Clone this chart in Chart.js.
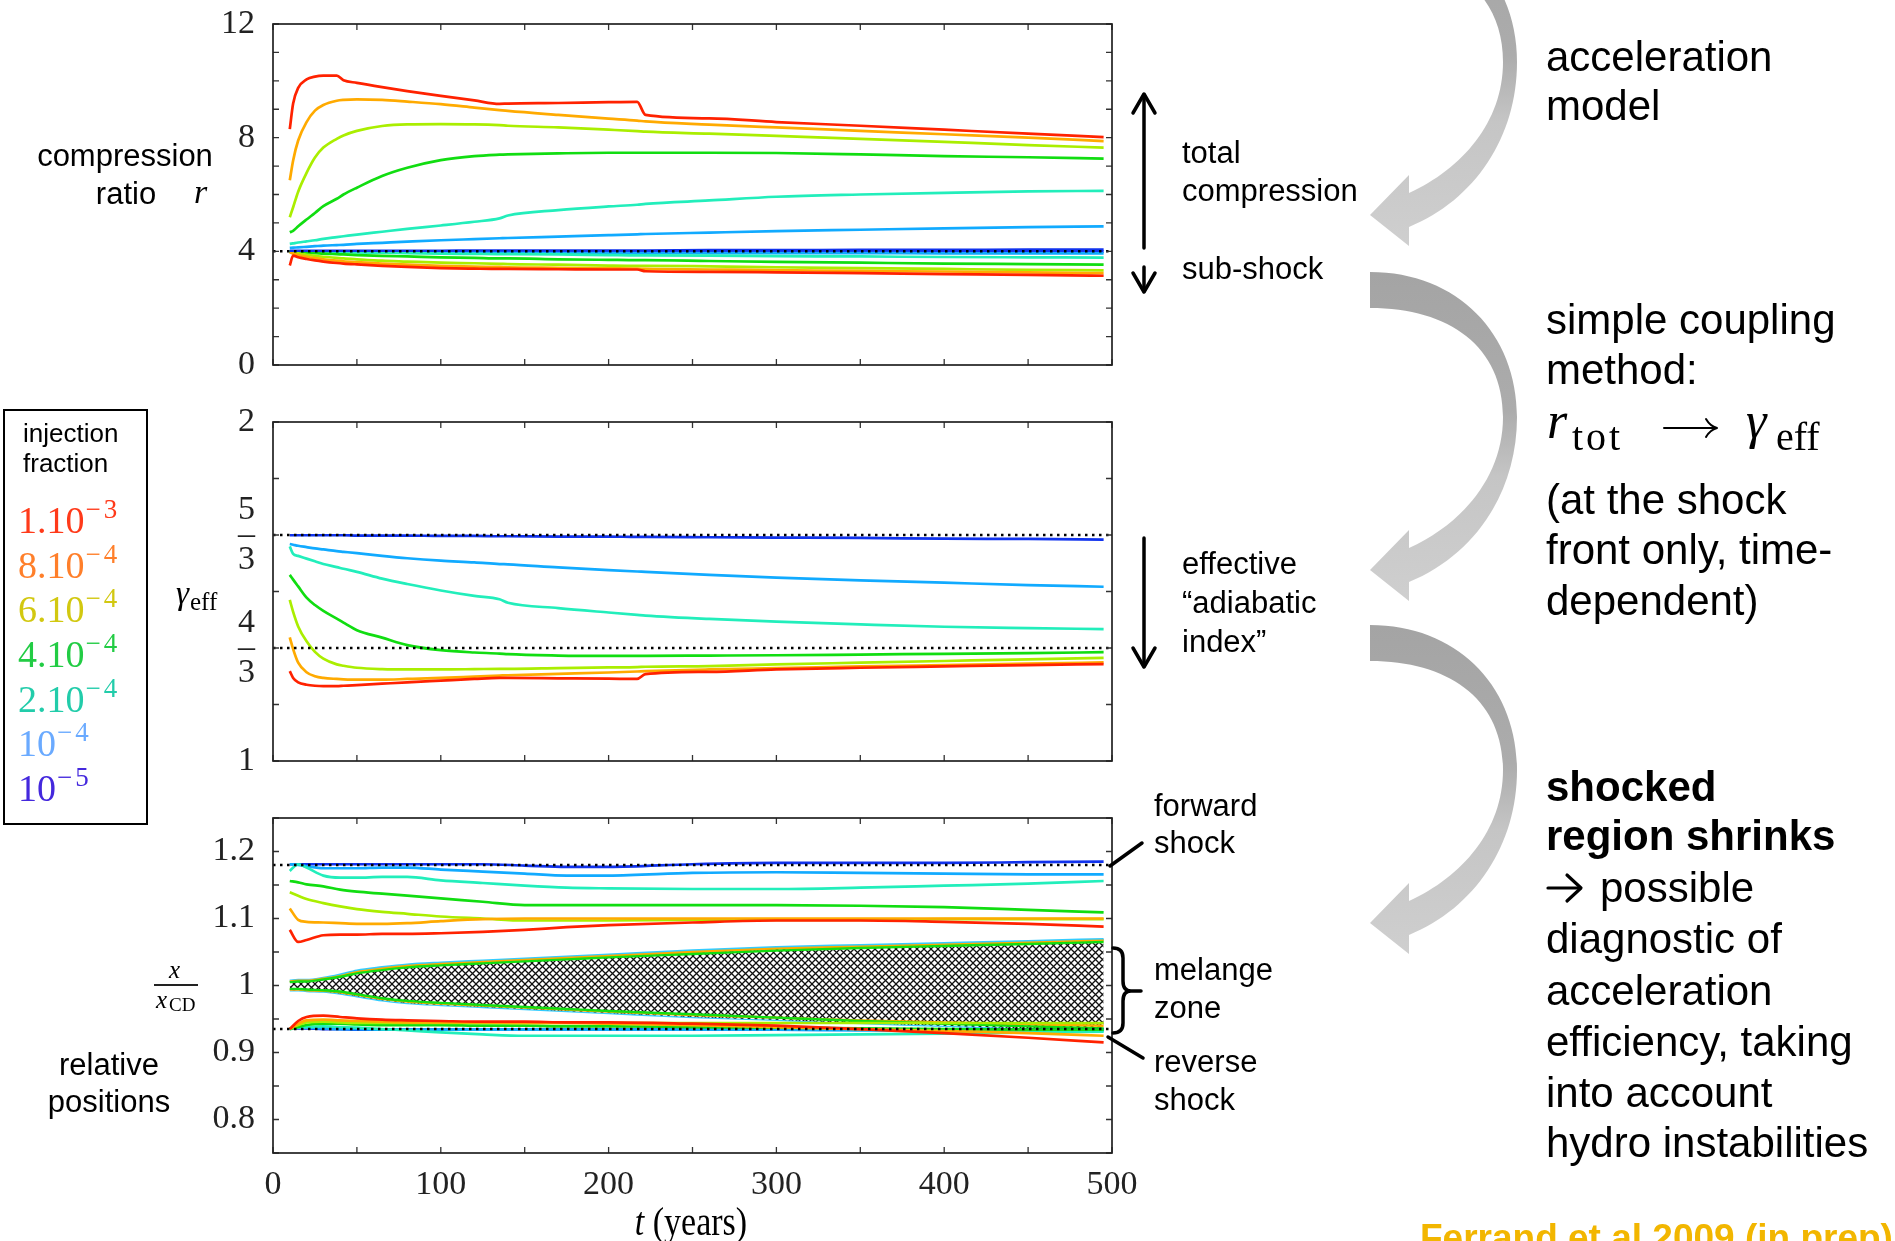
<!DOCTYPE html>
<html lang="en">
<head>
<meta charset="utf-8">
<title>Compression ratio, effective adiabatic index and relative positions</title>
<script src="https://cdn.jsdelivr.net/npm/chart.js@4.4.1/dist/chart.umd.min.js"></script>
<style>
  html, body { margin:0; padding:0; background:#fff; }
  body { position:relative; width:1895px; height:1241px; overflow:hidden;
         font-family:"Liberation Sans", Arial, sans-serif; color:#000; }
  canvas.panel { position:absolute; left:0; }
  .txt { position:absolute; white-space:nowrap; line-height:1; }
  .mid { transform:translateY(-50%); }
  .ctr { transform:translate(-50%,-50%); }
  .serif { font-family:"Liberation Serif", "Times New Roman", serif; }
  .side { font-size:31px; }
  .note { font-size:42px; left:1546px; }
  .lg { position:absolute; left:18px; font-family:"Liberation Serif", serif; font-size:38px;
        line-height:1; white-space:nowrap; }
  .lg span { font-size:27px; position:relative; top:-15px; letter-spacing:3px; margin-left:1px; }
  #legendBox { position:absolute; left:3px; top:409px; width:141px; height:412px; border:2px solid #000; }
  svg#overlay { position:absolute; left:0; top:0; }
</style>
</head>
<body>

<canvas id="cTop" class="panel" width="1160" height="395" style="top:0px"></canvas>
<canvas id="cMid" class="panel" width="1160" height="399" style="top:392px"></canvas>
<canvas id="cBot" class="panel" width="1160" height="425" style="top:788px"></canvas>

<svg id="overlay" width="1895" height="1241" viewBox="0 0 1895 1241">
  <defs>
    <linearGradient id="bendGrad" gradientUnits="userSpaceOnUse" x1="0" y1="0" x2="0" y2="330">
      <stop offset="0" stop-color="#a4a4a4"/>
      <stop offset="0.42" stop-color="#acacac"/>
      <stop offset="0.62" stop-color="#c5c5c5"/>
      <stop offset="1" stop-color="#cfcfcf"/>
    </linearGradient>
    <path id="bend" d="M0,0 C88,0 147,62 147,145 C147,220 105,283 39,310 L39,329 L0,298 L39,258 L39,276 C92,252 133,205 133,145 C133,75 80,36 0,36 Z"/>
  </defs>
  <g fill="url(#bendGrad)">
    <use href="#bend" transform="translate(1370,-83)"/>
    <use href="#bend" transform="translate(1370,272)"/>
    <use href="#bend" transform="translate(1370,625)"/>
  </g>
  <g stroke="#000" stroke-width="3.5" fill="none" stroke-linecap="round" stroke-linejoin="round">
    <!-- total compression / sub-shock -->
    <line x1="1144" y1="95" x2="1144" y2="248"/>
    <polyline points="1133,113 1144,94 1155,113"/>
    <line x1="1144" y1="267" x2="1144" y2="291"/>
    <polyline points="1133,273 1144,292 1155,273"/>
    <!-- effective adiabatic index -->
    <line x1="1144" y1="538" x2="1144" y2="666"/>
    <polyline points="1133,648 1144,667 1155,648"/>
    <!-- forward shock pointer -->
    <line x1="1110" y1="866" x2="1142" y2="843"/>
    <!-- melange zone brace -->
    <path d="M1113,948 Q1123,948 1123,958 L1123,981 Q1123,991 1131,991 L1141,991 M1131,991 Q1123,991 1123,1001 L1123,1023 Q1123,1033 1113,1033"/>
    <!-- reverse shock pointer -->
    <line x1="1108" y1="1037" x2="1143" y2="1058"/>
  </g>
  <g stroke="#000" fill="none" stroke-linecap="round" stroke-linejoin="round">
    <!-- coupling arrow r_tot -> gamma_eff -->
    <line x1="1664" y1="428" x2="1716" y2="428" stroke-width="2"/>
    <path d="M1706,419 Q1710,426 1717,428 Q1710,430 1706,437" stroke-width="2"/>
    <!-- arrow before "possible" -->
    <line x1="1548" y1="888" x2="1580" y2="888" stroke-width="3.2"/>
    <polyline points="1567,875 1581,888 1567,901" stroke-width="3.2"/>
  </g>
</svg>

<!-- left axis captions -->
<div class="txt ctr side" style="left:125px; top:155px;">compression</div>
<div class="txt ctr side" style="left:126px; top:193px;">ratio</div>
<div class="txt serif" style="left:194px; top:175px; font-size:34px; font-style:italic;">r</div>

<div class="txt serif" style="left:176px; top:577px; font-size:33px; font-style:italic;">&gamma;</div>
<div class="txt serif" style="left:190px; top:589px; font-size:25px;">eff</div>

<div class="txt serif" style="left:169px; top:957px; font-size:25px; font-style:italic;">x</div>
<div style="position:absolute; left:154px; top:984px; width:44px; height:1.5px; background:#222;"></div>
<div class="txt serif" style="left:156px; top:987px; font-size:25px; font-style:italic;">x</div>
<div class="txt serif" style="left:169px; top:995px; font-size:19px;">CD</div>

<div class="txt ctr side" style="left:109px; top:1064px;">relative</div>
<div class="txt ctr side" style="left:109px; top:1101px;">positions</div>

<div class="txt ctr serif" style="left:691px; top:1222px; font-size:34px; transform:translate(-50%,-50%) scaleY(1.15);"><i>t</i> (years)</div>

<!-- injection fraction key -->
<div id="legendBox"></div>
<div class="txt mid" style="left:23px; top:433px; font-size:26px;">injection</div>
<div class="txt mid" style="left:23px; top:463px; font-size:26px;">fraction</div>
<div class="lg" style="top:501px; color:#ff3a1a;">1.10<span>&minus;3</span></div>
<div class="lg" style="top:546px; color:#ff7f2a;">8.10<span>&minus;4</span></div>
<div class="lg" style="top:590px; color:#d2c810;">6.10<span>&minus;4</span></div>
<div class="lg" style="top:635px; color:#22cc44;">4.10<span>&minus;4</span></div>
<div class="lg" style="top:680px; color:#22ccaa;">2.10<span>&minus;4</span></div>
<div class="lg" style="top:724px; color:#6aaaff;">10<span>&minus;4</span></div>
<div class="lg" style="top:769px; color:#4428dd;">10<span>&minus;5</span></div>

<!-- annotations next to the panels -->
<div class="txt mid side" style="left:1182px; top:152px;">total</div>
<div class="txt mid side" style="left:1182px; top:190px;">compression</div>
<div class="txt mid side" style="left:1182px; top:268px;">sub-shock</div>
<div class="txt mid side" style="left:1182px; top:563px;">effective</div>
<div class="txt mid side" style="left:1182px; top:602px;">&ldquo;adiabatic</div>
<div class="txt mid side" style="left:1182px; top:641px;">index&rdquo;</div>
<div class="txt mid side" style="left:1154px; top:805px;">forward</div>
<div class="txt mid side" style="left:1154px; top:842px;">shock</div>
<div class="txt mid side" style="left:1154px; top:969px;">melange</div>
<div class="txt mid side" style="left:1154px; top:1007px;">zone</div>
<div class="txt mid side" style="left:1154px; top:1061px;">reverse</div>
<div class="txt mid side" style="left:1154px; top:1099px;">shock</div>

<!-- right-hand notes -->
<div class="txt mid note" style="top:57px;">acceleration</div>
<div class="txt mid note" style="top:106px;">model</div>
<div class="txt mid note" style="top:320px;">simple coupling</div>
<div class="txt mid note" style="top:370px;">method:</div>
<div class="txt serif" style="left:1547px; top:395px; font-size:52px; font-style:italic;">r</div>
<div class="txt serif" style="left:1572px; top:417px; font-size:40px; letter-spacing:3px;">tot</div>
<div class="txt serif" style="left:1746px; top:395px; font-size:52px; font-style:italic;">&gamma;</div>
<div class="txt serif" style="left:1776px; top:417px; font-size:40px;">eff</div>
<div class="txt mid note" style="top:500px;">(at the shock</div>
<div class="txt mid note" style="top:550px;">front only, time-</div>
<div class="txt mid note" style="top:601px;">dependent)</div>
<div class="txt mid note" style="top:787px; font-weight:bold;">shocked</div>
<div class="txt mid note" style="top:836px; font-weight:bold;">region shrinks</div>
<div class="txt mid note" style="top:888px; left:1600px;">possible</div>
<div class="txt mid note" style="top:939px;">diagnostic of</div>
<div class="txt mid note" style="top:991px;">acceleration</div>
<div class="txt mid note" style="top:1042px;">efficiency, taking</div>
<div class="txt mid note" style="top:1093px;">into account</div>
<div class="txt mid note" style="top:1143px;">hydro instabilities</div>
<div class="txt" style="left:1420px; top:1219px; font-size:37px; font-weight:bold; color:#f2b600;">Ferrand et al 2009 (in prep)</div>

<script>
// ---- time grids (years) ----
const tSteps = [10, 12, 15, 20, 25, 30, 38, 42, 50, 65, 80, 100, 120, 135, 140, 170, 200, 217, 222, 260, 300, 350, 400, 450, 495];
const tPos   = [10, 15, 20, 30, 40, 50, 65, 80, 100, 125, 150, 175, 200, 250, 300, 350, 400, 450, 495];

// ---- injection fractions ----
const injectionLabels = ['1.10^-3', '8.10^-4', '6.10^-4', '4.10^-4', '2.10^-4', '10^-4', '10^-5'];

// ---- total compression ratio r_tot ----
const rTot1e3 = [8.3, 9.2, 9.75, 10.05, 10.15, 10.18, 10.18, 10.02, 9.93, 9.78, 9.64, 9.47, 9.31, 9.19, 9.2, 9.22, 9.25, 9.26, 8.8, 8.68, 8.55, 8.42, 8.28, 8.14, 8.02];
const rTot8e4 = [6.5, 7.2, 7.9, 8.55, 8.95, 9.15, 9.3, 9.33, 9.35, 9.33, 9.27, 9.18, 9.06, 8.97, 8.94, 8.8, 8.67, 8.6, 8.57, 8.46, 8.36, 8.24, 8.12, 8.0, 7.88];
const rTot6e4 = [5.2, 5.55, 6.1, 6.76, 7.3, 7.65, 7.96, 8.08, 8.24, 8.41, 8.47, 8.48, 8.47, 8.44, 8.42, 8.36, 8.28, 8.23, 8.21, 8.14, 8.06, 7.96, 7.85, 7.74, 7.65];
const rTot4e4 = [4.67, 4.72, 4.88, 5.12, 5.35, 5.59, 5.85, 6.0, 6.24, 6.65, 6.94, 7.21, 7.35, 7.4, 7.41, 7.45, 7.47, 7.47, 7.47, 7.47, 7.46, 7.41, 7.35, 7.31, 7.26];
const rTot2e4 = [4.26, 4.28, 4.31, 4.35, 4.39, 4.44, 4.5, 4.53, 4.59, 4.69, 4.79, 4.91, 5.04, 5.16, 5.26, 5.45, 5.58, 5.64, 5.67, 5.79, 5.92, 6.0, 6.06, 6.11, 6.13];
const rTot1e4 = [4.12, 4.13, 4.14, 4.16, 4.18, 4.2, 4.22, 4.23, 4.26, 4.3, 4.34, 4.39, 4.43, 4.46, 4.47, 4.52, 4.57, 4.6, 4.61, 4.66, 4.71, 4.76, 4.81, 4.85, 4.88];
const rTot1e5 = [4.02, 4.02, 4.02, 4.02, 4.02, 4.02, 4.02, 4.02, 4.02, 4.02, 4.02, 4.02, 4.03, 4.03, 4.03, 4.03, 4.03, 4.03, 4.03, 4.04, 4.04, 4.05, 4.05, 4.06, 4.06];

// ---- sub-shock compression ratio ----
const rSub1e3 = [3.5, 3.85, 3.79, 3.73, 3.68, 3.64, 3.59, 3.57, 3.54, 3.49, 3.45, 3.41, 3.39, 3.38, 3.38, 3.37, 3.36, 3.36, 3.3, 3.28, 3.26, 3.23, 3.2, 3.17, 3.14];
const rSub8e4 = [3.97, 3.92, 3.87, 3.81, 3.76, 3.72, 3.67, 3.65, 3.62, 3.57, 3.53, 3.49, 3.46, 3.45, 3.44, 3.42, 3.4, 3.39, 3.38, 3.36, 3.34, 3.31, 3.29, 3.26, 3.23];
const rSub6e4 = [3.99, 3.96, 3.93, 3.88, 3.84, 3.81, 3.77, 3.75, 3.72, 3.67, 3.64, 3.6, 3.58, 3.56, 3.55, 3.53, 3.5, 3.49, 3.49, 3.47, 3.44, 3.41, 3.38, 3.35, 3.33];
const rSub4e4 = [4.0, 3.99, 3.97, 3.95, 3.94, 3.92, 3.9, 3.89, 3.87, 3.84, 3.82, 3.79, 3.77, 3.75, 3.75, 3.72, 3.7, 3.69, 3.69, 3.66, 3.63, 3.6, 3.57, 3.55, 3.53];
const rSub2e4 = [4.0, 4.0, 3.99, 3.99, 3.98, 3.98, 3.97, 3.97, 3.96, 3.95, 3.94, 3.92, 3.91, 3.9, 3.9, 3.89, 3.87, 3.86, 3.86, 3.85, 3.83, 3.82, 3.8, 3.79, 3.78];
const rSub1e4 = [4.0, 4.0, 4.0, 4.0, 3.99, 3.99, 3.99, 3.99, 3.98, 3.98, 3.97, 3.97, 3.96, 3.96, 3.96, 3.95, 3.95, 3.95, 3.95, 3.94, 3.94, 3.94, 3.93, 3.93, 3.93];
const rSub1e5 = [4.0, 4.0, 4.0, 4.0, 4.0, 4.0, 4.0, 4.0, 4.0, 4.0, 4.0, 4.0, 4.0, 4.0, 4.0, 4.0, 4.0, 4.0, 4.0, 3.99, 3.99, 3.99, 3.99, 3.99, 3.99];

// ---- effective adiabatic index ----
const gam1e3 = [1.265, 1.245, 1.232, 1.225, 1.222, 1.221, 1.221, 1.222, 1.224, 1.228, 1.232, 1.237, 1.242, 1.245, 1.245, 1.244, 1.243, 1.242, 1.256, 1.263, 1.27, 1.275, 1.279, 1.283, 1.286];
const gam8e4 = [1.365, 1.33, 1.29, 1.262, 1.25, 1.245, 1.242, 1.241, 1.24, 1.24, 1.242, 1.245, 1.249, 1.252, 1.253, 1.257, 1.261, 1.264, 1.265, 1.27, 1.274, 1.279, 1.283, 1.287, 1.291];
const gam6e4 = [1.475, 1.44, 1.397, 1.353, 1.322, 1.302, 1.285, 1.281, 1.275, 1.271, 1.27, 1.27, 1.271, 1.272, 1.272, 1.274, 1.276, 1.277, 1.278, 1.28, 1.285, 1.29, 1.295, 1.3, 1.304];
const gam4e4 = [1.549, 1.535, 1.515, 1.482, 1.46, 1.443, 1.42, 1.408, 1.386, 1.364, 1.342, 1.327, 1.32, 1.317, 1.315, 1.311, 1.31, 1.31, 1.31, 1.311, 1.312, 1.314, 1.316, 1.318, 1.321];
const gam2e4 = [1.633, 1.611, 1.605, 1.597, 1.589, 1.581, 1.572, 1.567, 1.558, 1.538, 1.522, 1.503, 1.487, 1.477, 1.467, 1.451, 1.438, 1.431, 1.429, 1.419, 1.411, 1.403, 1.396, 1.392, 1.389];
const gam1e4 = [1.64, 1.638, 1.635, 1.631, 1.627, 1.624, 1.619, 1.617, 1.613, 1.605, 1.598, 1.591, 1.586, 1.581, 1.58, 1.571, 1.563, 1.559, 1.558, 1.549, 1.541, 1.533, 1.526, 1.519, 1.514];
const gam1e5 = [1.666, 1.666, 1.666, 1.666, 1.666, 1.666, 1.666, 1.666, 1.665, 1.665, 1.665, 1.664, 1.664, 1.663, 1.663, 1.662, 1.662, 1.661, 1.661, 1.66, 1.659, 1.658, 1.656, 1.655, 1.653];

// ---- forward shock position x / x_CD ----
const fs1e3 = [1.083, 1.065, 1.068, 1.075, 1.076, 1.076, 1.077, 1.077, 1.078, 1.08, 1.083, 1.087, 1.09, 1.094, 1.097, 1.097, 1.095, 1.092, 1.088];
const fs8e4 = [1.115, 1.098, 1.095, 1.094, 1.093, 1.092, 1.092, 1.093, 1.096, 1.099, 1.1, 1.1, 1.1, 1.1, 1.1, 1.1, 1.1, 1.1, 1.1];
const fs6e4 = [1.139, 1.134, 1.129, 1.123, 1.118, 1.114, 1.11, 1.107, 1.103, 1.1, 1.097, 1.097, 1.097, 1.098, 1.098, 1.098, 1.099, 1.099, 1.099];
const fs4e4 = [1.156, 1.154, 1.151, 1.148, 1.143, 1.14, 1.137, 1.134, 1.13, 1.125, 1.12, 1.12, 1.12, 1.12, 1.12, 1.119, 1.117, 1.113, 1.109];
const fs2e4 = [1.171, 1.181, 1.176, 1.164, 1.161, 1.161, 1.162, 1.162, 1.157, 1.153, 1.149, 1.146, 1.145, 1.144, 1.144, 1.146, 1.149, 1.152, 1.156];
const fs1e4 = [1.181, 1.18, 1.178, 1.175, 1.175, 1.175, 1.176, 1.176, 1.173, 1.17, 1.167, 1.164, 1.164, 1.168, 1.169, 1.168, 1.167, 1.166, 1.166];
const fs1e5 = [1.181, 1.181, 1.181, 1.181, 1.181, 1.181, 1.181, 1.181, 1.181, 1.181, 1.179, 1.177, 1.177, 1.181, 1.183, 1.183, 1.183, 1.184, 1.185];

// ---- reverse shock position x / x_CD ----
const rs1e3 = [0.935, 0.947, 0.953, 0.955, 0.953, 0.951, 0.949, 0.948, 0.947, 0.946, 0.946, 0.945, 0.945, 0.943, 0.94, 0.935, 0.929, 0.922, 0.915];
const rs8e4 = [0.935, 0.943, 0.948, 0.949, 0.948, 0.947, 0.946, 0.945, 0.945, 0.945, 0.944, 0.944, 0.943, 0.941, 0.938, 0.935, 0.932, 0.929, 0.925];
const rs6e4 = [0.935, 0.941, 0.945, 0.946, 0.945, 0.944, 0.944, 0.944, 0.944, 0.944, 0.944, 0.944, 0.944, 0.944, 0.944, 0.944, 0.944, 0.944, 0.944];
const rs4e4 = [0.935, 0.938, 0.941, 0.943, 0.943, 0.942, 0.941, 0.941, 0.941, 0.94, 0.94, 0.939, 0.939, 0.938, 0.937, 0.936, 0.935, 0.934, 0.934];
const rs2e4 = [0.935, 0.937, 0.938, 0.939, 0.938, 0.937, 0.935, 0.933, 0.93, 0.927, 0.925, 0.925, 0.925, 0.925, 0.926, 0.927, 0.928, 0.93, 0.931];
const rs1e4 = [0.936, 0.937, 0.937, 0.936, 0.935, 0.935, 0.934, 0.934, 0.934, 0.934, 0.934, 0.934, 0.934, 0.934, 0.934, 0.933, 0.933, 0.933, 0.933];
const rs1e5 = [0.936, 0.936, 0.936, 0.935, 0.935, 0.934, 0.934, 0.934, 0.934, 0.934, 0.934, 0.934, 0.934, 0.934, 0.934, 0.934, 0.934, 0.934, 0.934];

// ---- mixing (melange) zone edges around the contact discontinuity ----
const cdUpper       = [1.007, 1.008, 1.008, 1.011, 1.016, 1.022, 1.027, 1.031, 1.034, 1.037, 1.04, 1.043, 1.046, 1.052, 1.057, 1.06, 1.063, 1.066, 1.069];
const cdLower       = [0.993, 0.993, 0.992, 0.991, 0.988, 0.984, 0.978, 0.974, 0.971, 0.968, 0.965, 0.962, 0.959, 0.953, 0.949, 0.944, 0.94, 0.936, 0.932];
const cdUpperOrange = [1.006, 1.007, 1.007, 1.01, 1.014, 1.02, 1.025, 1.029, 1.032, 1.035, 1.038, 1.041, 1.044, 1.05, 1.055, 1.058, 1.061, 1.064, 1.067];
const cdLowerOrange = [0.994, 0.994, 0.993, 0.992, 0.99, 0.986, 0.98, 0.976, 0.973, 0.97, 0.967, 0.964, 0.961, 0.956, 0.952, 0.948, 0.945, 0.942, 0.94];
const cdUpperGreen  = [1.005, 1.006, 1.006, 1.009, 1.013, 1.018, 1.023, 1.027, 1.03, 1.033, 1.036, 1.039, 1.042, 1.047, 1.052, 1.056, 1.059, 1.062, 1.065];
const cdLowerGreen  = [0.995, 0.995, 0.994, 0.993, 0.991, 0.987, 0.981, 0.977, 0.974, 0.971, 0.968, 0.965, 0.962, 0.957, 0.952, 0.947, 0.943, 0.939, 0.936];

// ---- reference levels (dotted) ----
const refTop = [4];
const refMid = [5 / 3, 4 / 3];
const refBot = [1.18, 0.935];

// ---- drawing ----
const SERIF = '"Liberation Serif", "Times New Roman", serif';
const lineColors = ['#ff2200', '#ffaa00', '#aaee00', '#11dd11', '#22eebb', '#11aaff', '#1133ee'];

const xy = (ts, vs) => ts.map((t, i) => ({ x: t, y: vs[i] }));

function curve(ts, vs, color, extra) {
  return Object.assign({
    data: xy(ts, vs), borderColor: color, backgroundColor: color, borderWidth: 2.7,
    pointRadius: 0, fill: false, cubicInterpolationMode: 'monotone'
  }, extra || {});
}

function dotted(y) {
  return { data: [{ x: 0, y }, { x: 500, y }], borderColor: '#000', borderWidth: 2.5,
           borderDash: [2.5, 4.5], pointRadius: 0, fill: false };
}

function hatch() {
  const c = document.createElement('canvas');
  c.width = 7; c.height = 7;
  const g = c.getContext('2d');
  g.fillStyle = '#fff'; g.fillRect(0, 0, 7, 7);
  g.strokeStyle = '#111'; g.lineWidth = 1.3;
  g.beginPath();
  g.moveTo(-1, -1); g.lineTo(8, 8);
  g.moveTo(-1, 8); g.lineTo(8, -1);
  g.stroke();
  return g.createPattern(c, 'repeat');
}

// frame box and inward tick marks on all four sides
const frameTicks = {
  id: 'frameTicks',
  afterDatasetsDraw(chart) {
    const { ctx, chartArea: a, scales } = chart;
    ctx.save();
    ctx.strokeStyle = '#333';
    ctx.lineWidth = 1.3;
    ctx.beginPath();
    const L = 6;
    scales.x.ticks.forEach(t => {
      const x = scales.x.getPixelForValue(t.value);
      ctx.moveTo(x, a.bottom); ctx.lineTo(x, a.bottom - L);
      ctx.moveTo(x, a.top); ctx.lineTo(x, a.top + L);
    });
    scales.y.ticks.forEach(t => {
      const y = scales.y.getPixelForValue(t.value);
      ctx.moveTo(a.left, y); ctx.lineTo(a.left + L, y);
      ctx.moveTo(a.right, y); ctx.lineTo(a.right - L, y);
    });
    ctx.stroke();
    ctx.strokeStyle = '#222';
    ctx.lineWidth = 1.7;
    ctx.strokeRect(a.left, a.top, a.right - a.left, a.bottom - a.top);
    ctx.restore();
  }
};

function panelOptions(o) {
  return {
    responsive: false, animation: false, devicePixelRatio: 1,
    layout: { padding: { left: 0, right: 48, top: o.padTop, bottom: o.padBottom } },
    plugins: { legend: { display: false }, tooltip: { enabled: false } },
    scales: {
      x: {
        type: 'linear', min: 0, max: 500,
        grid: { display: false }, border: { display: false },
        ticks: {
          stepSize: 50, autoSkip: false, maxRotation: 0, display: o.showX, padding: 4,
          color: '#222', font: { family: SERIF, size: 34 },
          callback: v => (v % 100 === 0 ? String(v) : '')
        },
        afterFit: s => { s.height = o.showX ? 60 : 0; }
      },
      y: {
        type: 'linear', min: o.yMin, max: o.yMax,
        grid: { display: false }, border: { display: false },
        ticks: {
          autoSkip: false, padding: 10, color: '#222',
          font: { family: SERIF, size: 34, lineHeight: 0.74 },
          callback: o.yLabel
        },
        afterBuildTicks: s => { s.ticks = o.yTicks.map(v => ({ value: v })); },
        afterFit: s => { s.width = 273; }
      }
    }
  };
}

Chart.defaults.font.family = SERIF;

const rTotAll = [rTot1e3, rTot8e4, rTot6e4, rTot4e4, rTot2e4, rTot1e4, rTot1e5];
const rSubAll = [rSub1e3, rSub8e4, rSub6e4, rSub4e4, rSub2e4, rSub1e4, rSub1e5];
const gamAll  = [gam1e3, gam8e4, gam6e4, gam4e4, gam2e4, gam1e4, gam1e5];
const fsAll   = [fs1e3, fs8e4, fs6e4, fs4e4, fs2e4, fs1e4, fs1e5];
const rsAll   = [rs1e3, rs8e4, rs6e4, rs4e4, rs2e4, rs1e4, rs1e5];

// compression ratio panel
const topSets = refTop.map(dotted);
rTotAll.forEach((v, i) => topSets.push(curve(tSteps, v, lineColors[i], { label: injectionLabels[i] })));
rSubAll.forEach((v, i) => topSets.push(curve(tSteps, v, lineColors[i], { label: injectionLabels[i] + ' sub' })));
const topTicks = [];
for (let k = 0; k <= 12; k++) topTicks.push(k);
new Chart(document.getElementById('cTop'), {
  type: 'line',
  data: { datasets: topSets },
  options: panelOptions({
    padTop: 24, padBottom: 30, showX: false, yMin: 0, yMax: 12, yTicks: topTicks,
    yLabel: v => (v % 4 === 0 ? String(v) : '')
  }),
  plugins: [frameTicks]
});

// effective adiabatic index panel
const midSets = refMid.map(dotted);
gamAll.forEach((v, i) => midSets.push(curve(tSteps, v, lineColors[i], { label: injectionLabels[i] })));
const midTicks = [];
for (let k = 6; k <= 12; k++) midTicks.push(k / 6);
new Chart(document.getElementById('cMid'), {
  type: 'line',
  data: { datasets: midSets },
  options: panelOptions({
    padTop: 30, padBottom: 30, showX: false, yMin: 1, yMax: 2, yTicks: midTicks,
    yLabel: v => {
      if (Math.abs(v - 2) < 1e-6) return '2';
      if (Math.abs(v - 1) < 1e-6) return '1';
      if (Math.abs(v - 5 / 3) < 1e-6) return ['5', '\u2013', '3'];
      if (Math.abs(v - 4 / 3) < 1e-6) return ['4', '\u2013', '3'];
      return '';
    }
  }),
  plugins: [frameTicks]
});

// relative positions panel
const botSets = refBot.map(dotted);
fsAll.forEach((v, i) => botSets.push(curve(tPos, v, lineColors[i], { label: injectionLabels[i] + ' FS' })));
rsAll.forEach((v, i) => botSets.push(curve(tPos, v, lineColors[i], { label: injectionLabels[i] + ' RS' })));
botSets.push(curve(tPos, cdUpperGreen, '#11dd11', { borderWidth: 2.4 }));
botSets.push(curve(tPos, cdLowerGreen, '#11dd11', { borderWidth: 2.4 }));
botSets.push(curve(tPos, cdUpperOrange, '#ffaa00', { borderWidth: 2.4 }));
botSets.push(curve(tPos, cdLowerOrange, '#ffaa00', { borderWidth: 2.4 }));
botSets.push(curve(tPos, cdUpper, '#33ccff', { borderWidth: 2.6, fill: '+1', backgroundColor: hatch() }));
botSets.push(curve(tPos, cdLower, '#33ccff', { borderWidth: 2.6 }));
const botTicks = [];
for (let k = 15; k <= 25; k++) botTicks.push(k / 20);
new Chart(document.getElementById('cBot'), {
  type: 'line',
  data: { datasets: botSets },
  options: panelOptions({
    padTop: 30, padBottom: 0, showX: true, yMin: 0.75, yMax: 1.25, yTicks: botTicks,
    yLabel: v => {
      const k = Math.round(v * 10);
      return Math.abs(v * 10 - k) < 1e-6 ? String(k / 10) : '';
    }
  }),
  plugins: [frameTicks]
});
</script>
</body>
</html>
